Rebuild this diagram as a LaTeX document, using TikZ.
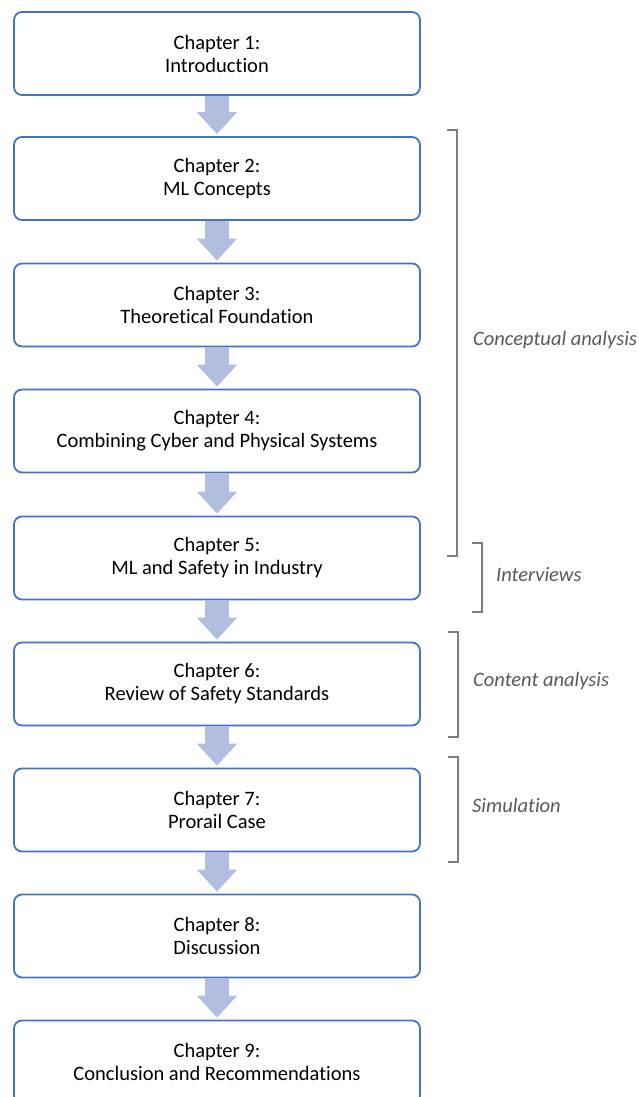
\documentclass[tikz,border=0pt]{standalone}
\usepackage{fontspec}
\setmainfont{Carlito}[Ligatures=NoCommon]
\usetikzlibrary{arrows.meta,calc}
\definecolor{boxblue}{HTML}{4472C4}
\definecolor{flowfill}{HTML}{B1BEE0}
\definecolor{notegray}{HTML}{595959}
\definecolor{bracegray}{HTML}{7F7F7F}
\begin{document}
\begin{tikzpicture}[x=1pt,y=-1pt,
  chapter/.style={draw=boxblue, line width=1.8pt, rounded corners=8pt, fill=white,
    minimum width=406pt, minimum height=83pt, align=center,
    font=\fontsize{20.5}{23}\selectfont, inner sep=0pt},
  flow/.style={draw=flowfill, line width=24pt, -{Triangle[width=39pt,length=22pt]}, shorten >=2pt},
  bracket/.style={draw=bracegray, line width=1.3pt},
  note/.style={text=notegray, font=\fontsize{20.5}{23}\selectfont\itshape, anchor=west, inner sep=0pt}]
\useasboundingbox (0,0) rectangle (638,1097);
\clip (0,0) rectangle (638,1097);

% chapter boxes
\node[chapter] (b1) at (217,53.5)  {Chapter 1:\\Introduction};
\node[chapter] (b2) at (217,178.5) {Chapter 2:\\ML Concepts};
\node[chapter] (b3) at (217,305)   {Chapter 3:\\Theoretical Foundation};
\node[chapter] (b4) at (217,431)   {Chapter 4:\\Combining Cyber and Physical Systems};
\node[chapter] (b5) at (217,558)   {Chapter 5:\\ML and Safety in Industry};
\node[chapter] (b6) at (217,684)   {Chapter 6:\\Review of Safety Standards};
\node[chapter] (b7) at (217,810)   {Chapter 7:\\Prorail Case};
\node[chapter] (b8) at (217,936)   {Chapter 8:\\Discussion};
\node[chapter] (b9) at (217,1062)  {Chapter 9:\\Conclusion and Recommendations};

% block arrows between consecutive chapters
\foreach \a/\b in {b1/b2,b2/b3,b3/b4,b4/b5,b5/b6,b6/b7,b7/b8,b8/b9}
  \draw[flow] (\a.south) -- (\b.north);

% method brackets
\coordinate (c1t) at (457,130); \coordinate (c1b) at (457,556);
\draw[bracket] ($(c1t)+(-10,0)$) -- (c1t) -- (c1b) -- ($(c1b)+(-10,0)$);
\node[note] (n1) at (473,340) {Conceptual analysis};

\coordinate (c2t) at (482,543); \coordinate (c2b) at (482,612);
\draw[bracket] ($(c2t)+(-10,0)$) -- (c2t) -- (c2b) -- ($(c2b)+(-10,0)$);
\node[note] (n2) at (496,575) {Interviews};

\coordinate (c3t) at (458,632); \coordinate (c3b) at (458,737);
\draw[bracket] ($(c3t)+(-10,0)$) -- (c3t) -- (c3b) -- ($(c3b)+(-10,0)$);
\node[note] (n3) at (473,681) {Content analysis};

\coordinate (c4t) at (458,757); \coordinate (c4b) at (458,862);
\draw[bracket] ($(c4t)+(-10,0)$) -- (c4t) -- (c4b) -- ($(c4b)+(-10,0)$);
\node[note] (n4) at (472,805) {Simulation};
\end{tikzpicture}
\end{document}
